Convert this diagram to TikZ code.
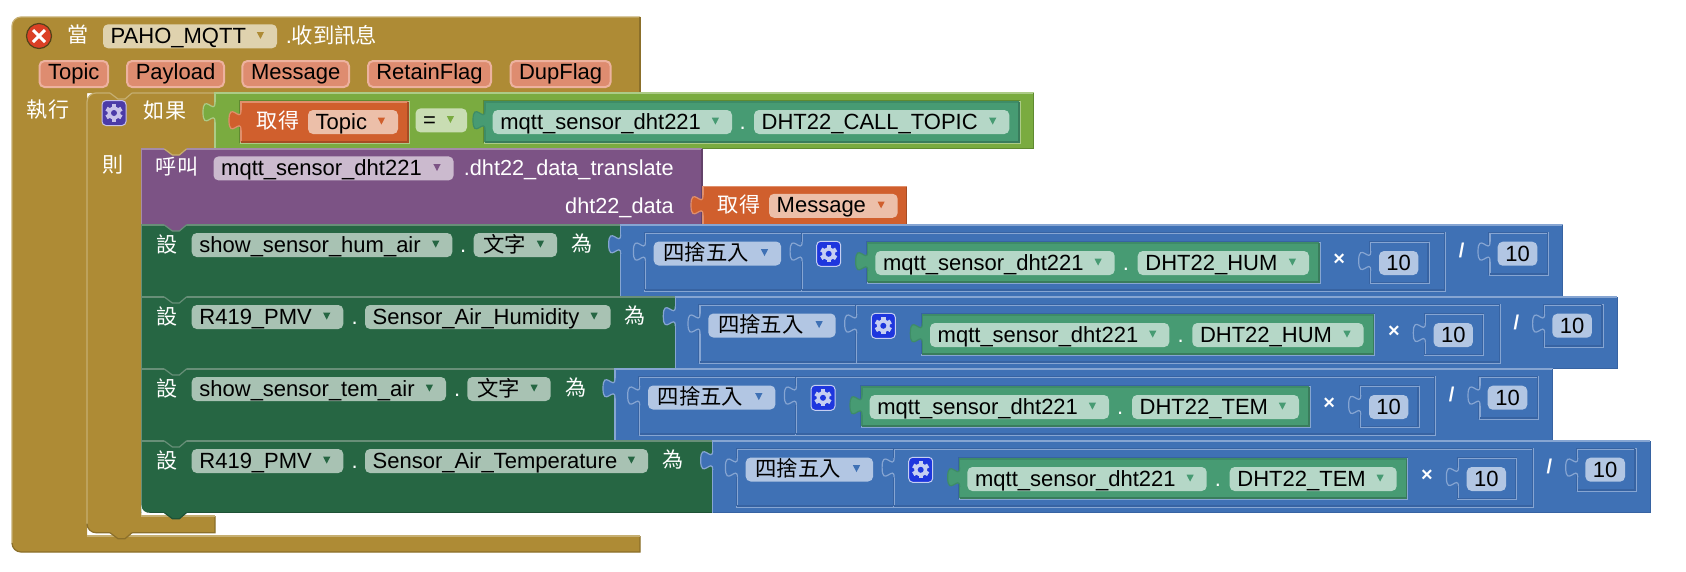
\documentclass[tikz,border=0pt]{standalone}
\usepackage{fontspec}
\setmainfont{Liberation Sans}
\newfontfamily\cjk[Scale=0.97]{Noto Sans CJK TC}
\definecolor{GoldBody}{HTML}{AE8B35}
\definecolor{GoldLite}{HTML}{C6AF72}
\definecolor{GoldDark}{HTML}{8B6F2A}
\definecolor{GoldField}{HTML}{DFD2AE}
\definecolor{GreenBody}{HTML}{7AAB40}
\definecolor{GreenLite}{HTML}{ACCB87}
\definecolor{GreenDark}{HTML}{5F8A30}
\definecolor{GreenField}{HTML}{C9DDB3}
\definecolor{PurpleBody}{HTML}{7C5385}
\definecolor{PurpleLite}{HTML}{A48BAA}
\definecolor{PurpleDark}{HTML}{63426A}
\definecolor{PurpleField}{HTML}{CBBACE}
\definecolor{ForestBody}{HTML}{266643}
\definecolor{ForestLite}{HTML}{688F78}
\definecolor{ForestDark}{HTML}{1E5236}
\definecolor{ForestField}{HTML}{A8C2B3}
\definecolor{BlueBody}{HTML}{3F71B5}
\definecolor{BlueLite}{HTML}{86A5D2}
\definecolor{BlueDark}{HTML}{3763A2}
\definecolor{BlueField}{HTML}{B2C6E3}
\definecolor{TealBody}{HTML}{479B73}
\definecolor{TealLite}{HTML}{3E8C67}
\definecolor{TealDark}{HTML}{397C5C}
\definecolor{TealField}{HTML}{B5D7C7}
\definecolor{OrangeBody}{HTML}{D05F2D}
\definecolor{OrangeLite}{HTML}{E08F6C}
\definecolor{OrangeDark}{HTML}{A64C24}
\definecolor{OrangeField}{HTML}{ECBFA9}
\definecolor{ParamFill}{HTML}{DE8C70}
\definecolor{ParamRim}{HTML}{EDB29F}
\definecolor{IfGear}{HTML}{4B3BA8}
\definecolor{IfCog}{HTML}{C8C2EA}
\definecolor{RowGear}{HTML}{1E36DE}
\definecolor{RowCog}{HTML}{C6CFF2}
\definecolor{CloseRed}{HTML}{DB4025}
\newcommand{\zh}[1]{{\cjk #1}}
\newcommand{\blockfont}{\fontsize{22}{24}\selectfont}
\newcommand{\labelfont}{\fontsize{21.7}{24}\selectfont}
\tikzset{
  rim/.style={line width=1.2pt},
  txt/.style={anchor=base west,inner sep=0pt,font=\blockfont},
  lab/.style={inner sep=0pt,white,font=\labelfont},
  symb/.style={inner sep=0pt,white,font=\fontsize{20}{24}\selectfont\bfseries},
  chip/.style={rounded corners=5pt},
  param/.style={chip,fill=ParamFill,draw=ParamRim,line width=2pt},
  gearbox/.style={rectangle,rounded corners=4pt,draw,line width=1pt,minimum width=24,minimum height=25,inner sep=0pt}
}
\newcommand{\tabcurve}[2]{(#1,#2) .. controls (#1,#2+13) and (#1-12,#2-10.4) .. (#1-12,#2+9.75)
  .. controls (#1-12,#2+29.9) and (#1,#2+6.5) .. (#1,#2+19.5)}
\newcommand{\block}[5]{%
  \fill[#1Body] (#2,#3) rectangle (#4,#5);
  \draw[#1Lite,rim] (#2,#5) -- (#2,#3) -- (#4,#3);
  \draw[#1Dark,rim] (#4,#3) -- (#4,#5) -- (#2,#5);
}
\newcommand{\plug}[3]{%
  \fill[#1Body] \tabcurve{#2}{#3} -- (#2+1.2,#3+19.5) -- (#2+1.2,#3) -- cycle;
  \draw[#1Lite,rim] \tabcurve{#2}{#3};
}
\newcommand{\inblock}[6]{%
  \draw[#1Dark,rim] (#3-1,#6+1) -- (#3-1,#4-1) -- (#5+1,#4-1);
  \draw[#1Lite,rim] (#5+1,#4-1) -- (#5+1,#6+1) -- (#3-1,#6+1);
  \block{#2}{#3}{#4}{#5}{#6}
  \plug{#2}{#3}{#4+8.5}
}
\newcommand{\notch}[4]{%
  \fill[#1] (#3+23,#4-0.8) -- (#3+23,#4) -- (#3+31,#4+6) -- (#3+38,#4+6) -- (#3+45,#4) -- (#3+45,#4-0.8) -- cycle;
  \draw[#2,rim] (#3+23,#4) -- (#3+31,#4+6) -- (#3+38,#4+6) -- (#3+45,#4);
}
\newcommand{\ddfield}[6]{%
  \fill[chip,#2Field] (#3,#5-12) rectangle (#4,#5+12);
  \node[txt,black] (#1) at (#3+7.5,#5+7) {#6};
  \fill[#2Body] (#4-20.2,#5-4.3) -- (#4-13,#5-4.3) -- (#4-16.6,#5+2.6) -- cycle;
}
\newcommand{\numfield}[4]{%
  \fill[chip,BlueField] (#2,#4-12) rectangle (#3,#4+12);
  \node[inner sep=0pt,font=\blockfont,black] (#1) at ({(#2+#3)/2},#4) {10};
}
\newcommand{\gearbtn}[5]{%
  \node[gearbox,fill=#4,draw=#5] (#1) at (#2,#3) {};
  \begin{scope}[shift={(#2,#3)}]
    \foreach \a in {0,60,...,300}{\fill[#5,rotate=\a] (-2.2,-8.6) rectangle (2.2,-4);}
    \fill[#5] (0,0) circle (6.5pt);
    \fill[#4] (0,0) circle (3pt);
  \end{scope}
}
\begin{document}
\begin{tikzpicture}[x=1pt,y=-1pt]
  \useasboundingbox (0,0) rectangle (1686,571);
  \fill[white] (0,0) rectangle (1686,571);
  % hat block
  \path[fill=GoldBody] (640,17) [rounded corners=9pt] -- (12,17) -- (12,552) -- (40,552) [sharp corners] -- (640,552)
     -- (640,536) -- (87,536) -- (87,93) -- (640,93) -- cycle;
  \draw[GoldLite,rim] (12,543) [rounded corners=9pt] -- (12,17) -- (40,17) [sharp corners] -- (640,17);
  \draw[GoldDark,rim] (640,17) -- (640,93);
  \draw[GoldDark,rim] (12,543) [rounded corners=9pt] -- (12,552) -- (40,552) [sharp corners] -- (640,552) -- (640,536);
  \draw[GoldLite,rim] (87,536) -- (640,536);
  \node[circle,fill=CloseRed,draw=GoldDark!60!black,line width=1.2pt,minimum size=25,inner sep=0pt] (closex) at (39,36) {};
  \draw[white,line width=3pt] (33,30) -- (45,42) (45,30) -- (33,42);
  \node[lab] (when) at (78,35) {\zh{當}};
  \ddfield{mqtt}{Gold}{103}{277}{36.3}{PAHO\_MQTT}
  \node[txt,white] (recv) at (285.6,43) {.\zh{收到訊息}};
  \foreach \l/\r/\t in {39.5/108/Topic,127/224/Payload,242.4/349/Message,368/491/RetainFlag,510.6/610.6/DupFlag}{
    \path[param] (\l,61) rectangle (\r,87);
    \node[inner sep=0pt,font=\blockfont,black] (p\t) at ({(\l+\r)/2},74) {\vphantom{Tg}\t};
  }
  \node[lab] (dolab) at (48,110) {\zh{執行}};
  % if block
  \path[fill=GoldBody] (215,93) [rounded corners=9pt] -- (87,93) -- (87,532.7) -- (105,532.7) [sharp corners] -- (215,532.7)
     -- (215,516) -- (141.4,516) -- (141.4,148) -- (215,148) -- cycle;
  \draw[GoldLite,rim] (87,526) [rounded corners=9pt] -- (87,93) -- (105,93) [sharp corners] -- (215,93);
  \draw[GoldDark,rim] (87,526) [rounded corners=9pt] -- (87,532.7) -- (105,532.7) [sharp corners] -- (215,532.7) -- (215,516);
  \draw[GoldLite,rim] (141.4,516) -- (215,516);
  \notch{GoldBody}{GoldLite}{87}{93}
  \notch{GoldBody}{GoldDark}{87}{532.7}
  \gearbtn{ifgear}{114}{113}{IfGear}{IfCog}
  \node[lab] (iflab) at (165,111) {\zh{如果}};
  \node[lab] (thenlab) at (113.4,165) {\zh{則}};
  % condition
  \block{Green}{215}{93}{1033.5}{148.4}
  \plug{Green}{215}{102.5}
  \inblock{Green}{Orange}{241}{102}{408}{142}
  \node[lab] (get1) at (278,120.7) {\zh{取得}};
  \ddfield{gettopic}{Orange}{308}{398}{122}{Topic}
  \ddfield{eqsign}{Green}{415.5}{467}{120.4}{=}
  \inblock{Green}{Teal}{485}{102}{1019}{142}
  \ddfield{callcomp}{Teal}{492.7}{732}{122}{mqtt\_sensor\_dht221}
  \node[txt,white] (calldot) at (739.5,129) {.};
  \ddfield{calltopic}{Teal}{754}{1009.3}{122}{DHT22\_CALL\_TOPIC}
  % procedure call
  \block{Purple}{141.4}{149}{702}{224.3}
  \notch{GoldBody}{GoldLite}{141.4}{149}
  \node[lab] (calllab) at (177,167) {\zh{呼叫}};
  \ddfield{callmqtt}{Purple}{213.5}{453.6}{168.4}{mqtt\_sensor\_dht221}
  \node[lab,anchor=base east] (transl) at (674,175.4) {.dht22\_data\_translate};
  \node[lab,anchor=base east] (arglab) at (674,213) {dht22\_data};
  \block{Orange}{703}{186.7}{906.7}{224.3}
  \plug{Orange}{703}{195.5}
  \node[lab] (get2) at (739,205) {\zh{取得}};
  \ddfield{getmsg}{Orange}{769}{897.7}{205.8}{Message}
  % setter rows
  \foreach \Y/\X/\D/\nm/\a/\b/\c/\d/\prop/\w/\suf [count=\n] in {
      225/620.7/0/show\_sensor\_hum\_air/452.3/463/473.7/557/\hspace*{2pt}\zh{文字}/581.7/HUM,
      297/675.3/0/R419\_PMV/343.3/354.3/365/610.7/Sensor\_Air\_Humidity/635.5/HUM,
      369/615/4.3/show\_sensor\_tem\_air/446/457/467.3/550.7/\hspace*{2pt}\zh{文字}/576/TEM,
      441/712.7/4.3/R419\_PMV/343.3/354.3/365/648/Sensor\_Air\_Temperature/673.3/TEM}{
    \block{Forest}{141.4}{\Y}{\X}{\Y+71.7}
    \node[lab] (setlab\n) at (166.7,\Y+19) {\zh{設}};
    \ddfield{var\n}{Forest}{191.7}{\a}{\Y+20}{\nm}
    \node[txt,white] (dota\n) at (\b-3,\Y+27) {.};
    \ddfield{prop\n}{Forest}{\c}{\d}{\Y+20}{\prop}
    \node[lab] (tolab\n) at (\w,\Y+19) {\zh{為}};
    % maths on the right
    \block{Blue}{\X}{\Y}{\X+942-\D}{\Y+71.7}
    \plug{Blue}{\X}{\Y+9.5}
    \inblock{Blue}{Blue}{\X+24.7}{\Y+8.3}{\X+824-\D}{\Y+65}
    \ddfield{round\n}{Blue}{\X+33}{\X+160.4}{\Y+28.5}{\hspace*{2pt}\zh{四捨五入}}
    \inblock{Blue}{Blue}{\X+181.4}{\Y+8.3}{\X+824-\D}{\Y+65}
    \gearbtn{gear\n}{\X+208}{\Y+28.8}{RowGear}{RowCog}
    \inblock{Blue}{Teal}{\X+247}{\Y+18}{\X+698.3-\D}{\Y+57}
    \ddfield{comp\n}{Teal}{\X+254.7}{\X+494}{\Y+38}{mqtt\_sensor\_dht221}
    \node[txt,white] (dotb\n) at (\X+502,\Y+45) {.};
    \ddfield{key\n}{Teal}{\X+517}{\X+688.3-\D}{\Y+38}{DHT22\_\suf}
    \node[symb] (times\n) at (\X+718.6-\D,\Y+35) {×};
    \inblock{Blue}{Blue}{\X+750-\D}{\Y+17.7}{\X+807.3-\D}{\Y+57.7}
    \numfield{tena\n}{\X+758.3-\D}{\X+797.6-\D}{\Y+38}
    \node[symb] (divide\n) at (\X+841-\D,\Y+25.7) {/};
    \inblock{Blue}{Blue}{\X+869.3-\D}{\Y+8.3}{\X+926.6-\D}{\Y+49}
    \numfield{tenb\n}{\X+877-\D}{\X+916.6-\D}{\Y+28.7}
  }
  % tabs between the stacked blocks
  \notch{PurpleBody}{ForestLite}{141.4}{225}
  \foreach \Y in {297,369,441}{\notch{ForestBody}{ForestLite}{141.4}{\Y}}
  \fill[white] (141.4,512.9) -- (141.4,505) .. controls (141.4,510.5) and (145,512.9) .. (150,512.9) -- cycle;
  \notch{ForestBody}{ForestDark}{141.4}{512.7}
\end{tikzpicture}
\end{document}
